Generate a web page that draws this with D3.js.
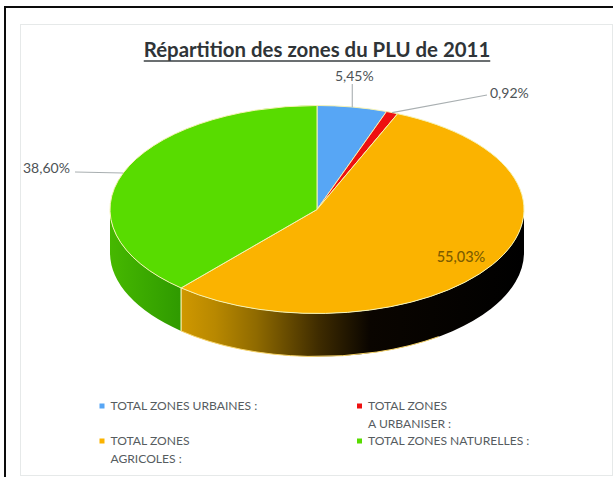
<!DOCTYPE html>
<html lang="fr">
<head>
<meta charset="utf-8">
<title>Répartition des zones du PLU de 2011</title>
<script src="https://cdn.jsdelivr.net/npm/d3@7/dist/d3.min.js"></script>
<style>
  html, body { margin: 0; padding: 0; background: #fff; }
  svg { display: block; font-family: Lato, "Open Sans", sans-serif; }
</style>
</head>
<body>
<svg id="chart" width="613" height="477"></svg>
<script>
// Land-use shares of the 2011 PLU, clockwise from twelve o'clock
const zones = ["urbaines", "a_urbaniser", "agricoles", "naturelles"];
const shares = [5.45, 0.92, 55.03, 38.60];
const colours = ["#57a6f5", "#ee1010", "#fbb300", "#58dc00"];
const legendLines = [
  ["TOTAL ZONES URBAINES :"],
  ["TOTAL ZONES", "A URBANISER :"],
  ["TOTAL ZONES", "AGRICOLES  :"],
  ["TOTAL ZONES NATURELLES :"]
];
const titleText = "Répartition des zones du PLU de 2011";

const W = 613, H = 477;
const cx = 317, cy = 209.5, rx = 207, ry = 104, depth = 43;
const svg = d3.select("#chart");
const defs = svg.append("defs");

// Outer frame and inner chart panel
svg.append("rect").attr("x", 20.5).attr("y", 24.5).attr("width", W - 21).attr("height", H - 26)
  .attr("fill", "#fff").attr("stroke", "#e6e9e9");
svg.append("path").attr("d", `M5 ${H}V7H${W}`)
  .attr("fill", "none").attr("stroke", "#0c0c0c").attr("stroke-width", 2);

// Title with its underline
const title = svg.append("text").attr("x", 317).attr("y", 57)
  .attr("text-anchor", "middle").attr("font-size", 20.4).attr("font-weight", 700)
  .attr("fill", "#2f3437").text(titleText);
const tb = title.node().getBBox();
svg.append("line").attr("x1", tb.x).attr("x2", tb.x + tb.width).attr("y1", 61).attr("y2", 61)
  .attr("stroke", "#3a3f42").attr("stroke-width", 1.6);

const slices = d3.pie().sort(null).value(d => d)(shares);

// Maps a pie angle (0 = top, clockwise) onto the tilted disc
const px = a => cx + rx * Math.sin(a);
const py = a => cy - ry * Math.cos(a);

// Rim shading: each visible wall runs left to right in screen space
function rimGradient(id, x1, x2, stops) {
  const g = defs.append("linearGradient").attr("id", id)
    .attr("gradientUnits", "userSpaceOnUse")
    .attr("x1", x1).attr("x2", x2).attr("y1", 0).attr("y2", 0);
  stops.forEach(([o, c]) => g.append("stop").attr("offset", o).attr("stop-color", c));
}
const agri = slices[2], nat = slices[3];
rimGradient("rim-agri", px(agri.endAngle), px(Math.PI / 2), [
  [0, "#cf9800"], [0.1, "#b88800"], [0.22, "#8f6a00"], [0.4, "#3f2c00"], [0.55, "#0a0500"], [1, "#000"]
]);
rimGradient("rim-nat", cx - rx, px(nat.startAngle), [
  [0, "#46b800"], [1, "#2f9a00"]
]);

// Wall between two angles on the lower half of the disc
function wall(a0, a1) {
  const big = a1 - a0 > Math.PI ? 1 : 0;
  return `M${px(a0)} ${py(a0)}A${rx} ${ry} 0 ${big} 1 ${px(a1)} ${py(a1)}` +
         `L${px(a1)} ${py(a1) + depth}A${rx} ${ry} 0 ${big} 0 ${px(a0)} ${py(a0) + depth}Z`;
}
svg.append("path").attr("d", wall(nat.startAngle, 3 * Math.PI / 2)).attr("fill", "url(#rim-nat)");
svg.append("path").attr("d", wall(Math.PI / 2, agri.endAngle)).attr("fill", "url(#rim-agri)");

// Pale edges along the front of the orange wall and at its seam
const seam = agri.endAngle;
svg.append("line").attr("x1", px(seam)).attr("x2", px(seam))
  .attr("y1", py(seam)).attr("y2", py(seam) + depth)
  .attr("stroke", "#f4f0b0").attr("stroke-width", 1.2);
svg.append("path")
  .attr("d", `M${px(Math.PI * 0.8)} ${py(Math.PI * 0.8) + depth}A${rx} ${ry} 0 0 1 ${px(seam)} ${py(seam) + depth}`)
  .attr("fill", "none").attr("stroke", "#f7d46a").attr("stroke-width", 1);

// Top face: a regular pie squashed vertically
const arc = d3.arc().innerRadius(0).outerRadius(rx);
svg.append("g")
  .attr("transform", `translate(${cx},${cy}) scale(1,${ry / rx})`)
  .selectAll("path").data(slices).join("path")
  .attr("d", arc)
  .attr("fill", (d, i) => colours[i])
  .attr("stroke", "#f6f3b4").attr("stroke-width", 1)
  .attr("vector-effect", "non-scaling-stroke");

// Percentage labels and leader lines
const fmt = v => v.toFixed(2).replace(".", ",") + "%";
const mid = d => (d.startAngle + d.endAngle) / 2;
const leaderStroke = "#a9afb1";
const labelStyle = sel => sel.attr("font-size", 14).attr("fill", "#4d5356");

const blue = slices[0], red = slices[1];
svg.append("path").attr("fill", "none").attr("stroke", leaderStroke).attr("stroke-width", 1.1)
  .attr("d", `M${px(mid(blue))} ${py(mid(blue))}V84`);
svg.append("text").call(labelStyle).attr("x", px(mid(blue)) + 2).attr("y", 81)
  .attr("text-anchor", "middle").text(fmt(blue.value));

svg.append("path").attr("fill", "none").attr("stroke", leaderStroke).attr("stroke-width", 1.1)
  .attr("d", `M${px(mid(red))} ${py(mid(red))}L487 95`);
svg.append("text").call(labelStyle).attr("x", 490).attr("y", 98).text(fmt(red.value));

svg.append("path").attr("fill", "none").attr("stroke", leaderStroke).attr("stroke-width", 1.1)
  .attr("d", `M${px(mid(nat))} ${py(mid(nat))}L75 172`);
svg.append("text").call(labelStyle).attr("x", 23).attr("y", 173).text(fmt(nat.value));

svg.append("text").attr("font-size", 14.5).attr("font-weight", 500).attr("fill", "#7c5c00")
  .attr("x", cx + rx * 0.82 * Math.sin(mid(agri)))
  .attr("y", cy - ry * 0.82 * Math.cos(mid(agri)) + 7)
  .attr("text-anchor", "middle").text(fmt(agri.value));

// Two-column legend
const col = d3.scalePoint().domain([0, 1]).range([102, 359.5]);
const row = d3.scalePoint().domain([0, 1]).range([406, 441]);
const items = svg.append("g").selectAll("g").data(zones).join("g")
  .attr("transform", (d, i) => `translate(${col(i % 2)},${row(Math.floor(i / 2))})`);
items.append("rect").attr("x", -2.5).attr("y", -2.5).attr("width", 5).attr("height", 5)
  .attr("fill", (d, i) => colours[i]);
items.selectAll("text").data((d, i) => legendLines[i]).join("text")
  .attr("x", 8.5).attr("y", (d, i) => 4 + i * 17.5)
  .attr("font-size", 12.1).attr("fill", "#565c5f").text(d => d);
</script>
</body>
</html>
